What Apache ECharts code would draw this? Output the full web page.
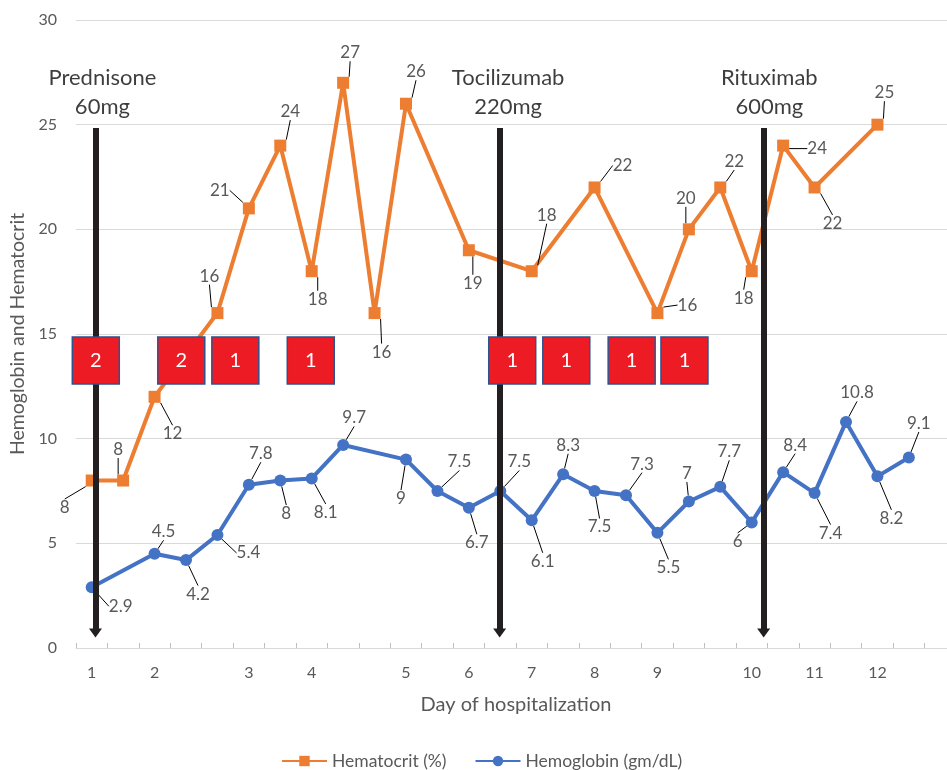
<!DOCTYPE html>
<html>
<head>
<meta charset="utf-8">
<script src="https://cdn.jsdelivr.net/npm/echarts@6/dist/echarts.min.js"></script>
<style>
  html, body { margin: 0; padding: 0; background: #fff; }
  #chart { width: 947px; height: 770px; }
</style>
</head>
<body>
<div id="chart"></div>
<script>
// Category slots along the hospital stay; only some slots carry a day number.
const dayLabels = ['1', '', '2', '', '', '3', '', '4', '', '', '5', '', '6', '', '7', '', '8', '', '9', '', '', '10', '', '11', '', '12', '', ''];

// Hematocrit (%) per slot (null = not measured)
const hematocrit = [8, 8, 12, null, 16, 21, 24, 18, 27, 16, 26, null, 19, null, 18, null, 22, null, 16, 20, 22, 18, 24, 22, null, 25, null, null];

// Hemoglobin (gm/dL) per slot
const hemoglobin = [2.9, null, 4.5, 4.2, 5.4, 7.8, 8, 8.1, 9.7, null, 9, 7.5, 6.7, 7.5, 6.1, 8.3, 7.5, 7.3, 5.5, 7, 7.7, 6, 8.4, 7.4, 10.8, 8.2, 9.1, null];

// Drug administrations (slot position on the timeline)
const drugDays = [0.12, 12.98, 21.38];
const drugNames = ['Prednisone\n60mg', 'Tocilizumab\n220mg', 'Rituximab\n600mg'];

// Transfused units (slot position and number of units)
const transfusionDays = [0.13, 2.85, 4.57, 6.97, 13.38, 15.1, 17.18, 18.86];
const transfusionUnits = [2, 2, 1, 1, 1, 1, 1, 1];

// ---- layout / style helpers (not data) ----
const FONT = 'Lato';
const GRAY = '#595959';
const arrowTop = 24.84, arrowBottom = 0.72;   // y extent of the drug arrows
const drugTextShift = [0.22, 0.27, 0.18];     // text sits a bit right of each arrow
const drugTextY = 26.54;
const boxY = 13.73;

// label offsets (dx, dy in px) from each marker, callout style
const hctLabelOffset = {
  0: [-27, 27], 1: [-5, -31], 2: [18, 37], 4: [-8, -37], 5: [-29, -18], 6: [10, -34],
  7: [6, 28], 8: [7, -30], 9: [7, 39], 10: [10, -32], 12: [4, 33], 14: [15, -56],
  16: [28, -22], 18: [30, -8], 19: [-3, -31], 20: [14, -26], 21: [-8, 27], 22: [34, 3],
  23: [18, 36], 25: [7, -32]
};
const hgbLabelOffset = {
  0: [29, 19], 2: [9, -22], 3: [12, 34], 4: [31, 18], 5: [12, -31], 6: [6, 33],
  7: [14, 34], 8: [11, -27], 10: [-5, 39], 11: [22, -29], 12: [8, 35], 13: [19, -29],
  14: [11, 41], 15: [5, -29], 16: [5, 36], 17: [16, -31], 18: [11, 35], 19: [-2, -28],
  20: [9, -35], 21: [-14, 19], 22: [12, -27], 23: [16, 40], 24: [11, -29], 25: [14, 42],
  26: [10, -34]
};

function offsetLayout(table) {
  return function (p) {
    const o = table[p.dataIndex];
    return o ? { dx: o[0], dy: o[1] } : {};
  };
}

const calloutLabel = {
  show: true,
  position: 'inside',
  color: GRAY,
  fontFamily: FONT,
  fontSize: 17,
  padding: [3, 3]
};
const calloutLine = { show: true, lineStyle: { color: '#000', width: 1 } };

const chart = echarts.init(document.getElementById('chart'), null, { renderer: 'canvas' });

chart.setOption({
  animation: false,
  textStyle: { fontFamily: FONT },
  grid: { left: 76, top: 20, width: 880, height: 628, outerBoundsMode: 'none' },
  legend: {
    left: 276,
    top: 747,
    itemWidth: 45,
    itemHeight: 13,
    itemGap: 28,
    data: ['Hematocrit (%)', 'Hemoglobin (gm/dL)'],
    textStyle: { color: GRAY, fontSize: 17.5, fontFamily: FONT }
  },
  xAxis: [
    {
      type: 'category',
      data: dayLabels,
      boundaryGap: true,
      name: 'Day of hospitalization',
      nameLocation: 'middle',
      nameGap: 47,
      nameTextStyle: { color: GRAY, fontSize: 20, fontFamily: FONT },
      axisLine: { lineStyle: { color: '#D9D9D9', width: 1 } },
      axisTick: { show: true, inside: true, length: 5, interval: 0, lineStyle: { color: '#BFBFBF' } },
      axisLabel: { interval: 0, color: GRAY, fontSize: 16, margin: 17, fontFamily: FONT },
      splitLine: { show: false }
    },
    {
      // hidden continuous axis for annotations placed between slots
      type: 'value',
      min: -0.5,
      max: dayLabels.length - 0.5,
      show: false
    }
  ],
  yAxis: {
    type: 'value',
    min: 0,
    max: 30,
    interval: 5,
    name: 'Hemoglobin and Hematocrit',
    nameLocation: 'middle',
    nameGap: 46,
    nameTextStyle: { color: GRAY, fontSize: 19.5, fontFamily: FONT },
    axisLine: { show: false },
    axisTick: { show: false },
    axisLabel: { color: GRAY, fontSize: 16, margin: 19, fontFamily: FONT },
    splitLine: { lineStyle: { color: '#D9D9D9', width: 1 } }
  },
  series: [
    {
      name: 'Hematocrit (%)',
      type: 'line',
      data: hematocrit,
      connectNulls: true,
      symbol: 'rect',
      symbolSize: 12,
      color: '#ED7D31',
      lineStyle: { width: 4, color: '#ED7D31' },
      itemStyle: { color: '#ED7D31' },
      label: calloutLabel,
      labelLine: calloutLine,
      labelLayout: offsetLayout(hctLabelOffset),
      z: 2
    },
    {
      name: 'Hemoglobin (gm/dL)',
      type: 'line',
      data: hemoglobin,
      connectNulls: true,
      symbol: 'circle',
      symbolSize: 12,
      color: '#4472C4',
      lineStyle: { width: 4, color: '#4472C4' },
      itemStyle: { color: '#4472C4' },
      label: calloutLabel,
      labelLine: calloutLine,
      labelLayout: offsetLayout(hgbLabelOffset),
      z: 2
    },
    {
      // drug arrows
      name: 'drugArrows',
      type: 'scatter',
      xAxisIndex: 1,
      data: [],
      silent: true,
      z: 4,
      markLine: {
        silent: true,
        symbol: ['none', 'triangle'],
        symbolSize: [13, 9],
        label: { show: false },
        lineStyle: { color: '#231F20', width: 6, type: 'solid' },
        emphasis: { disabled: true },
        data: drugDays.map(d => [{ coord: [d, arrowTop] }, { coord: [d, arrowBottom] }])
      }
    },
    {
      // drug names above the arrows
      name: 'drugNames',
      type: 'scatter',
      xAxisIndex: 1,
      silent: true,
      symbolSize: 0,
      data: drugDays.map((d, i) => [d + drugTextShift[i], drugTextY, drugNames[i]]),
      label: {
        show: true,
        position: 'inside',
        formatter: p => p.value[2],
        color: '#0D0D0D',
        fontSize: 22,
        lineHeight: 29,
        fontFamily: FONT
      },
      z: 6
    },
    {
      // transfused units
      name: 'transfusions',
      type: 'scatter',
      xAxisIndex: 1,
      silent: true,
      symbol: 'rect',
      symbolSize: [47, 47],
      data: transfusionDays.map((d, i) => [d, boxY, transfusionUnits[i]]),
      itemStyle: { color: '#ED1C24', borderColor: '#2F528F', borderWidth: 1.5, opacity: 1 },
      label: {
        show: true,
        position: 'inside',
        formatter: p => String(p.value[2]),
        color: '#fff',
        fontSize: 20,
        fontFamily: FONT
      },
      z: 6
    }
  ]
});
</script>
</body>
</html>
